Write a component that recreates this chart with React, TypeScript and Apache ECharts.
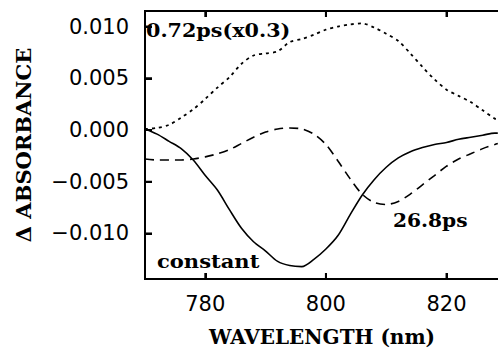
import React, { useEffect, useRef } from "react";
import * as echarts from "echarts";

const wavelengths = [770, 772, 774, 776, 778, 780, 782, 784, 786, 788, 790, 792, 794, 796, 798, 800, 802, 804, 806, 808, 810, 812, 814, 816, 818, 820, 822, 824, 826, 828, 828.5];

const fastValues = [0.0001, 0.0002, 0.0005, 0.0012, 0.002, 0.003, 0.0041, 0.0051, 0.0064, 0.0072, 0.0074, 0.0076, 0.0085, 0.0088, 0.0092, 0.0097, 0.01, 0.0102, 0.0103, 0.0099, 0.0093, 0.0086, 0.0074, 0.0061, 0.0049, 0.0039, 0.0033, 0.0027, 0.0019, 0.0011, 0.001];

const slowValues = [-0.0028, -0.0029, -0.0029, -0.0029, -0.0028, -0.0026, -0.0023, -0.0019, -0.0013, -0.0007, -0.0002, 0.0001, 0.0002, 0.0001, -0.0004, -0.0014, -0.003, -0.0047, -0.0062, -0.007, -0.0072, -0.0069, -0.0062, -0.0053, -0.0044, -0.0035, -0.0028, -0.0023, -0.0018, -0.0014, -0.0013];

const constantValues = [0.0001, -0.0004, -0.0011, -0.0018, -0.0029, -0.0044, -0.0058, -0.0077, -0.0095, -0.0108, -0.0117, -0.0127, -0.0131, -0.0132, -0.0125, -0.0115, -0.0102, -0.0082, -0.0063, -0.0048, -0.0036, -0.0027, -0.0021, -0.0017, -0.0014, -0.0012, -0.0009, -0.0007, -0.0005, -0.0003, -0.0003];

const xTicks = [780, 800, 820];
const yTicks = [-0.01, -0.005, 0, 0.005, 0.01];
const xMin = 770;
const xMax = 828.7;
const yMin = -0.0144;
const yMax = 0.0115;

const seriesLabels = ["0.72ps(x0.3)", "26.8ps", "constant"];
const xTitle = "WAVELENGTH (nm)";
const yTitle = "Δ ABSORBANCE";

const pairs = (vals: number[]) => wavelengths.map((w, i) => [w, vals[i]]);

export default function App() {
  const ref = useRef<HTMLDivElement>(null);
  useEffect(() => {
    if (!ref.current) return;
    const chart = echarts.init(ref.current, null, { renderer: "svg" });
    const serif = "DejaVu Serif";
    const sans = "DejaVu Sans";
    const tickData: number[][] = [];
    xTicks.forEach((t) => {
      tickData.push([t, yMin, 0]);
      tickData.push([t, yMax, 1]);
    });
    yTicks.forEach((t) => tickData.push([xMin, t, 2]));
    chart.setOption({
      animation: false,
      backgroundColor: "#fff",
      grid: {
        left: 145,
        right: -1,
        top: 11,
        bottom: 70,
        outerBoundsMode: "none",
        show: true,
        borderColor: "#000",
        borderWidth: 2,
        backgroundColor: "transparent",
      },
      xAxis: [
        {
          type: "value",
          min: xMin,
          max: xMax,
          splitNumber: 3,
          splitLine: { show: false },
          axisLine: { show: true, onZero: false, lineStyle: { color: "#000", width: 2 } },
          axisTick: { show: true, inside: true, length: 6, lineStyle: { color: "#000", width: 2 } },
          position: "bottom",
          name: xTitle,
          nameLocation: "middle",
          nameGap: 48,
          nameTextStyle: { fontFamily: serif, fontWeight: "bold", fontSize: 20, color: "#000" },
          axisLabel: {
            margin: 14,
            fontFamily: sans,
            fontSize: 21,
            color: "#000",
            formatter: (v: number) => (v % 20 === 0 ? String(v) : ""),
          },
        },
        {
          type: "value",
          position: "top",
          min: xMin,
          max: xMax,
          splitNumber: 3,
          splitLine: { show: false },
          axisLine: { show: true, onZero: false, lineStyle: { color: "#000", width: 2 } },
          axisTick: { show: true, inside: true, length: 6, lineStyle: { color: "#000", width: 2 } },
          axisLabel: { show: false },
        },
      ],
      yAxis: {
        type: "value",
        min: yMin,
        max: yMax,
        splitNumber: 5,
        splitLine: { show: false },
        axisLine: { show: true, onZero: false, lineStyle: { color: "#000", width: 2 } },
        axisTick: { show: true, inside: true, length: 7, lineStyle: { color: "#000", width: 2 } },
        name: yTitle,
        nameLocation: "middle",
        nameGap: 111,
        nameTextStyle: { fontFamily: serif, fontWeight: "bold", fontSize: 21, color: "#000" },
        axisLabel: {
          margin: 16,
          fontFamily: sans,
          fontSize: 21,
          color: "#000",
          formatter: (v: number) => {
            const r = Math.round(v * 1000) / 1000;
            if (Math.abs(r - v) > 1e-9) return "";
            const s = Math.abs(r).toFixed(3);
            return r < 0 ? "\u2212" + s : s;
          },
        },
      },
      series: [
        {
          name: seriesLabels[0],
          type: "line",
          data: pairs(fastValues),
          showSymbol: false,
          smooth: 0.3,
          lineStyle: { color: "#000", width: 1.8, type: [3, 4] },
        },
        {
          name: seriesLabels[1],
          type: "line",
          data: pairs(slowValues),
          showSymbol: false,
          smooth: 0.3,
          lineStyle: { color: "#000", width: 1.6, type: [9, 6] },
        },
        {
          name: seriesLabels[2],
          type: "line",
          data: pairs(constantValues),
          showSymbol: false,
          smooth: 0.3,
          lineStyle: { color: "#000", width: 1.6, type: "solid" },
        },
        {
          name: "ticks",
          type: "custom",
          silent: true,
          clip: false,
          z: 10,
          data: tickData,
          encode: { x: 0, y: 1 },
          renderItem: (params: any, api: any) => {
            const p = api.coord([api.value(0), api.value(1)]);
            const kind = api.value(2);
            let shape;
            if (kind === 0) shape = { x1: p[0], y1: p[1], x2: p[0], y2: p[1] - 6 };
            else if (kind === 1) shape = { x1: p[0], y1: p[1], x2: p[0], y2: p[1] + 6 };
            else shape = { x1: p[0], y1: p[1], x2: p[0] + 7, y2: p[1] };
            return { type: "line", shape, style: { stroke: "#000", lineWidth: 2 } };
          },
        },
      ],
      graphic: [
        {
          type: "text",
          x: 146,
          y: 31,
          scaleX: 1.15,
          style: { text: seriesLabels[0], fontFamily: serif, fontWeight: "bold", fontSize: 18, fill: "#000", textVerticalAlign: "middle" },
        },
        {
          type: "text",
          x: 393,
          y: 221,
          scaleX: 1.12,
          style: { text: seriesLabels[1], fontFamily: serif, fontWeight: "bold", fontSize: 18, fill: "#000", textVerticalAlign: "middle" },
        },
        {
          type: "text",
          x: 157,
          y: 262,
          scaleX: 1.17,
          style: { text: seriesLabels[2], fontFamily: serif, fontWeight: "bold", fontSize: 18, fill: "#000", textVerticalAlign: "middle" },
        },
      ],
    });
    return () => chart.dispose();
  }, []);
  return <div ref={ref} style={{ position: "fixed", left: 0, top: 0, width: 498, height: 349 }} />;
}
